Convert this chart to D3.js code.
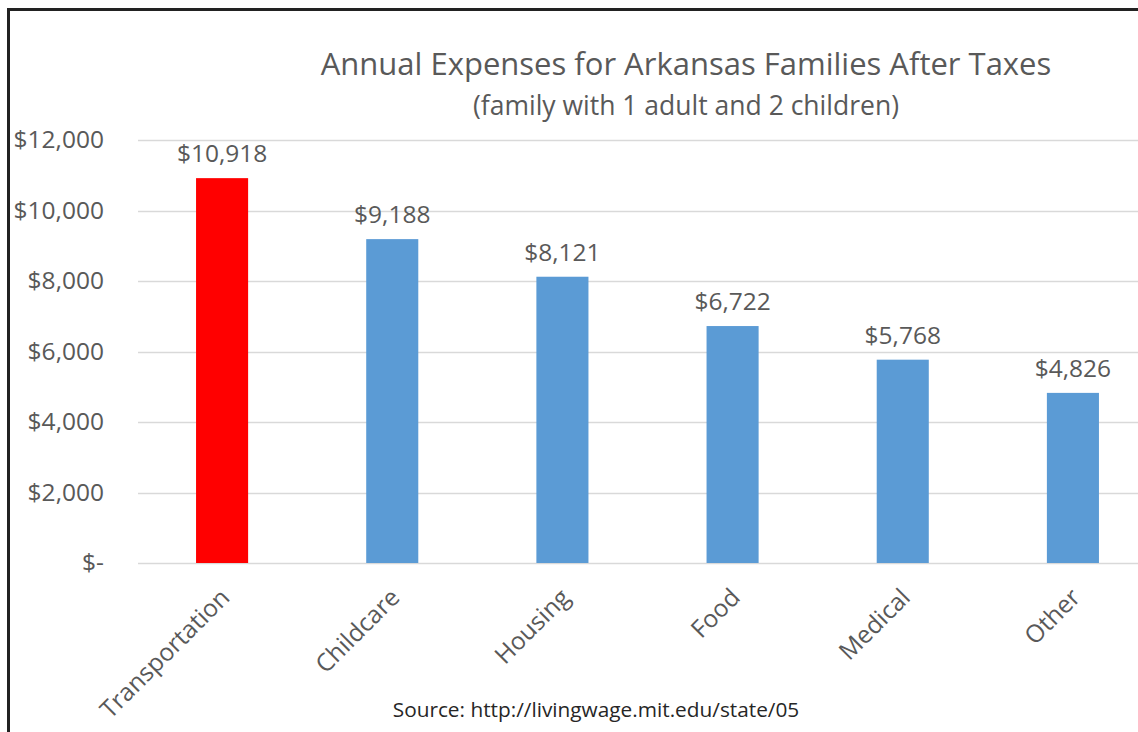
<!DOCTYPE html>
<html>
<head>
<meta charset="utf-8">
<script src="https://cdn.jsdelivr.net/npm/d3@7"></script>
<style>
  html, body { margin: 0; padding: 0; background: #fff; }
  svg { display: block; }
  text { font-family: "Open Sans", "Noto Sans", sans-serif; fill: #595959; }
</style>
</head>
<body>
<svg id="chart" width="1138" height="732"></svg>
<script>
const categories = ["Transportation", "Childcare", "Housing", "Food", "Medical", "Other"];
const values = [10918, 9188, 8121, 6722, 5768, 4826];
const barColors = ["#FF0000", "#5B9BD5", "#5B9BD5", "#5B9BD5", "#5B9BD5", "#5B9BD5"];
const yTicks = [0, 2000, 4000, 6000, 8000, 10000, 12000];
const titleText = "Annual Expenses for Arkansas Families After Taxes";
const subtitleText = "(family with 1 adult and 2 children)";
const sourceText = "Source: http://livingwage.mit.edu/state/05";

const svg = d3.select("#chart");
const W = 1138, H = 732;

// frame (top and left edges visible)
svg.append("line").attr("x1", 7).attr("x2", W).attr("y1", 9.5).attr("y2", 9.5)
  .attr("stroke", "#222").attr("stroke-width", 3);
svg.append("line").attr("x1", 8.5).attr("x2", 8.5).attr("y1", 8).attr("y2", H)
  .attr("stroke", "#222").attr("stroke-width", 3);

const x = d3.scaleBand().domain(categories).range([137, 1158]).paddingInner(0.694).paddingOuter(0.347);
const y = d3.scaleLinear().domain([0, 12000]).range([563, 140]);

const fmt = v => v === 0 ? "$-" : "$" + d3.format(",")(v);

// gridlines
svg.append("g").selectAll("line").data(yTicks).join("line")
  .attr("x1", 138).attr("x2", W)
  .attr("y1", d => Math.round(y(d)) + 0.5).attr("y2", d => Math.round(y(d)) + 0.5)
  .attr("stroke", "#D9D9D9").attr("stroke-width", 1.5);

// y axis labels
const yAxis = d3.axisLeft(y).tickValues(yTicks).tickFormat(fmt).tickSize(0).tickPadding(0);
const gy = svg.append("g").attr("transform", "translate(104,0)").call(yAxis);
gy.select(".domain").remove();
gy.selectAll("text").attr("font-size", 24.5).style("font-family", '"Open Sans", sans-serif').attr("fill", "#595959").attr("dy", "0.32em");

// bars
svg.append("g").selectAll("rect").data(values).join("rect")
  .attr("x", (d, i) => x(categories[i]))
  .attr("y", d => y(d))
  .attr("width", x.bandwidth())
  .attr("height", d => y(0) - y(d))
  .attr("fill", (d, i) => barColors[i]);

// value labels
svg.append("g").selectAll("text").data(values).join("text")
  .attr("x", (d, i) => x(categories[i]) + x.bandwidth() / 2)
  .attr("y", d => y(d) - 16)
  .attr("text-anchor", "middle")
  .attr("font-size", 24.5)
  .text(d => fmt(d));

// category labels
const xAxis = d3.axisBottom(x).tickSize(0).tickPadding(0);
const gx = svg.append("g").attr("transform", "translate(0,563)").call(xAxis);
gx.select(".domain").remove();
gx.selectAll("text")
  .attr("font-size", 24.5)
  .style("font-family", '"Open Sans", sans-serif')
  .attr("fill", "#595959")
  .attr("text-anchor", "end")
  .attr("dy", 0)
  .attr("transform", "translate(9,36) rotate(-45)");

// title
svg.append("text").attr("x", 686).attr("y", 75).attr("text-anchor", "middle")
  .attr("font-size", 31).text(titleText);
svg.append("text").attr("x", 686).attr("y", 115).attr("text-anchor", "middle")
  .attr("font-size", 26.5).text(subtitleText);

// source
svg.append("text").attr("x", 596).attr("y", 717).attr("text-anchor", "middle")
  .attr("font-size", 20.8).style("fill", "#262626").text(sourceText);
</script>
</body>
</html>
